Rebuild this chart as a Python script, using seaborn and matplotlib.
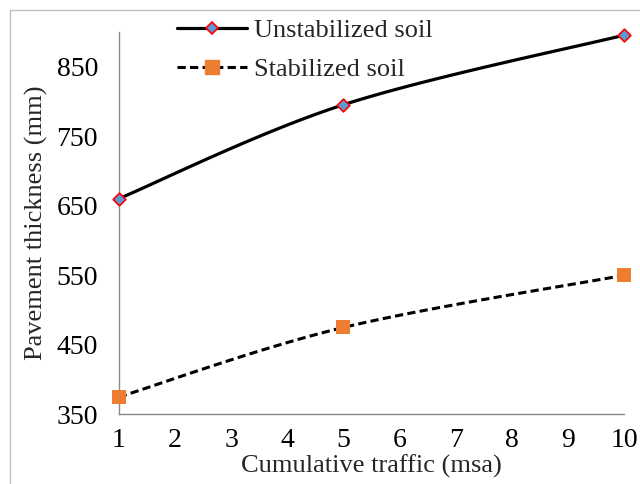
import numpy as np
import pandas as pd
import matplotlib
matplotlib.use("Agg")
import matplotlib.pyplot as plt
import seaborn as sns
from matplotlib.lines import Line2D

traffic = [1, 5, 10]
unstabilized = [660, 795, 895]
stabilized = [375, 475, 550]
series_names = ["Unstabilized soil", "Stabilized soil"]
xticks = list(range(1, 11))
yticks = [350, 450, 550, 650, 750, 850]

sns.set_style("white")
plt.rcParams['font.family'] = ['Liberation Serif', 'DejaVu Serif']


def smooth(x, y, n=40):
    # Excel-like smoothed line (Catmull-Rom Bezier)
    P = np.column_stack([x, y]).astype(float)
    P = np.vstack([P[0], P, P[-1]])
    out = []
    t = np.linspace(0, 1, n)
    for i in range(1, len(P) - 2):
        p0, p1, p2, p3 = P[i - 1], P[i], P[i + 1], P[i + 2]
        c1 = p1 + (p2 - p0) / 6
        c2 = p2 - (p3 - p1) / 6
        seg = ((1 - t) ** 3)[:, None] * p1 + (3 * (1 - t) ** 2 * t)[:, None] * c1 \
            + (3 * (1 - t) * t ** 2)[:, None] * c2 + (t ** 3)[:, None] * p2
        out.append(seg)
    arr = np.vstack(out)
    return arr[:, 0], arr[:, 1]


fig = plt.figure(figsize=(6.4, 4.84), dpi=100)
ax = fig.add_axes([0.1855, 0.1436, 0.7895, 0.7909])

dash = (0, (2.7, 1.4))
sx, sy = smooth(traffic, unstabilized)
ax.plot(sx, sy, color="black", lw=2.3, solid_capstyle="butt", zorder=2, clip_on=False)
sx2, sy2 = smooth(traffic, stabilized)
ax.plot(sx2, sy2, color="black", lw=2.2, ls=dash, zorder=2, clip_on=False)

df1 = pd.DataFrame({"x": traffic, "y": unstabilized})
df2 = pd.DataFrame({"x": traffic, "y": stabilized})
sns.scatterplot(data=df1, x="x", y="y", ax=ax, marker="D", s=42,
                color="#5B9BD5", edgecolor="#FF0000", linewidth=1.2, zorder=3, clip_on=False)
sns.scatterplot(data=df2, x="x", y="y", ax=ax, marker="s", s=100,
                color="#ED7D31", edgecolor="#ED7D31", linewidth=0, zorder=3, clip_on=False)

ax.set_xlim(1, 10)
ax.set_ylim(350, 900)
ax.set_xticks(xticks)
ax.set_yticks(yticks)
ax.tick_params(axis="y", labelsize=20, length=6, width=1, color="#898989",
               direction="out", pad=9, labelcolor="black")
ax.tick_params(axis="x", labelsize=20, length=6.5, width=1, color="#898989",
               direction="out", pad=3, labelcolor="black")
for s in ["top", "right"]:
    ax.spines[s].set_visible(False)
for s in ["left", "bottom"]:
    ax.spines[s].set_color("#898989")
    ax.spines[s].set_linewidth(1)
ax.set_xlabel("Cumulative traffic (msa)", fontsize=19, labelpad=1.5)
ax.set_ylabel("Pavement thickness (mm)", fontsize=19, labelpad=6)

handles = [
    Line2D([], [], color="black", lw=2.3, marker="D", markersize=6.5,
           markerfacecolor="#5B9BD5", markeredgecolor="#FF0000", markeredgewidth=1.2),
    Line2D([], [], color="black", lw=2.2, ls=dash, marker="s", markersize=10,
           markerfacecolor="#ED7D31", markeredgecolor="#ED7D31"),
]
fig.legend(handles, series_names, loc="upper left", bbox_to_anchor=(0.2766, 0.962),
           frameon=False, fontsize=19, handlelength=2.65, handletextpad=0.27,
           labelspacing=0.6, borderaxespad=0, borderpad=0)

# outer chart border (left and top visible)
fig.add_artist(Line2D([0.016, 0.016], [0, 0.98], color="#BFBFBF", lw=1))
fig.add_artist(Line2D([0.016, 1.0], [0.98, 0.98], color="#BFBFBF", lw=1))

fig.savefig("out.png", dpi=100)
